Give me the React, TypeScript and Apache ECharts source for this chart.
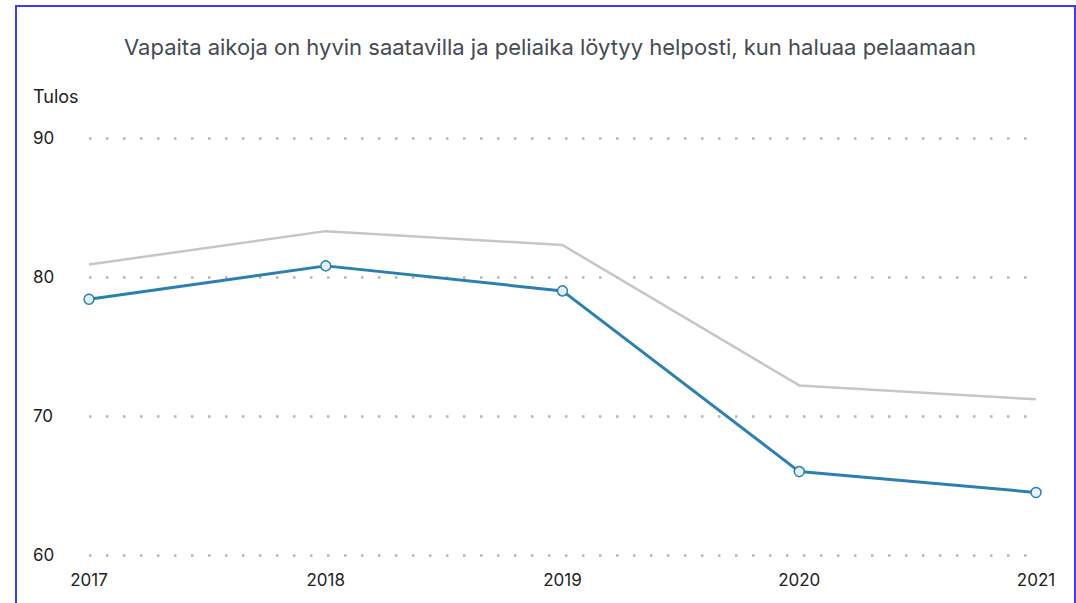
import React, { useEffect, useRef } from "react";
import * as echarts from "echarts";

const years = ["2017", "2018", "2019", "2020", "2021"];
const blueValues = [78.4, 80.8, 79.0, 66.0, 64.5];
const grayValues = [80.9, 83.3, 82.3, 72.2, 71.2];
const titleText = "Vapaita aikoja on hyvin saatavilla ja peliaika löytyy helposti, kun haluaa pelaamaan";
const yAxisName = "Tulos";

export default function App() {
  const ref = useRef<HTMLDivElement>(null);
  useEffect(() => {
    if (!ref.current) return;
    const chart = echarts.init(ref.current, null, { renderer: "svg" });
    chart.setOption({
      animation: false,
      backgroundColor: "#ffffff",
      textStyle: { fontFamily: "Inter" },
      title: {
        text: titleText,
        left: 545,
        textAlign: "center",
        top: 31,
        textStyle: { fontFamily: "Inter", fontSize: 22, fontWeight: "normal", color: "#464b52" },
      },
      graphic: [
        {
          type: "text",
          left: 33,
          top: 87,
          style: { text: yAxisName, fontFamily: "Inter", fontSize: 18, fill: "#222" },
        },
      ],
      grid: { left: 89, right: 40, top: 138, bottom: 48, containLabel: false },
      xAxis: {
        type: "category",
        data: years,
        boundaryGap: false,
        axisLine: { show: false },
        axisTick: { show: false },
        axisLabel: { fontFamily: "Inter", fontSize: 17, color: "#222", margin: 16 },
      },
      yAxis: {
        type: "value",
        min: 60,
        max: 90,
        interval: 10,
        axisLine: { show: false },
        axisTick: { show: false },
        axisLabel: { fontFamily: "Inter", fontSize: 17, color: "#222", align: "left", margin: 56 },
        splitLine: { lineStyle: { type: [2.5, 14.5], width: 2.5, color: "#b4b4b4" } },
      },
      series: [
        {
          type: "line",
          data: grayValues,
          symbol: "none",
          lineStyle: { color: "#c3c7cc", width: 2.5 },
          z: 1,
        },
        {
          type: "line",
          data: blueValues,
          symbol: "circle",
          symbolSize: 10,
          itemStyle: { color: "#e6f2f9", borderColor: "#2a80b0", borderWidth: 1.5 },
          lineStyle: { color: "#2a80b0", width: 3 },
          z: 2,
        },
      ],
    });
    return () => chart.dispose();
  }, []);
  return (
    <div style={{ position: "fixed", left: 0, top: 0, width: 1076, height: 603, background: "#fff" }}>
      <div ref={ref} style={{ position: "absolute", left: 0, top: 0, width: 1076, height: 603 }} />
      <div
        style={{
          position: "absolute",
          left: 15,
          top: 5,
          width: 1057,
          height: 640,
          border: "2px solid #3b3bff",
          pointerEvents: "none",
        }}
      />
    </div>
  );
}
